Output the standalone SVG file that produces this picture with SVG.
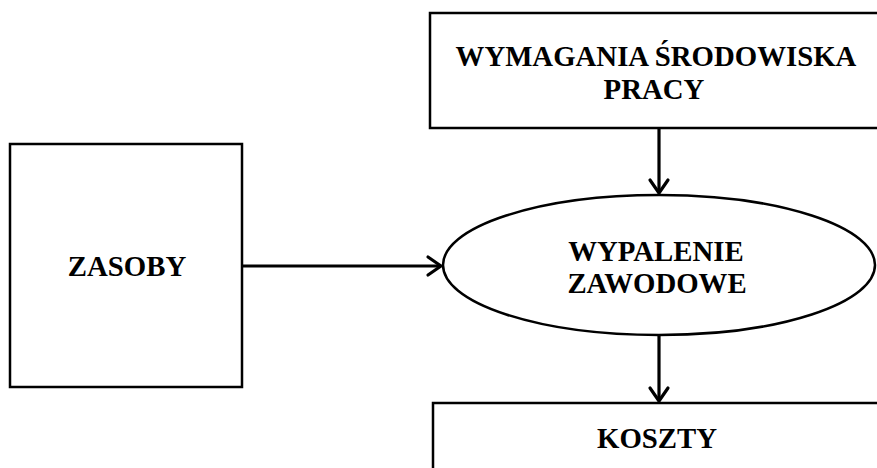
<svg xmlns="http://www.w3.org/2000/svg" width="877" height="468" viewBox="0 0 877 468">
<style>
.box{fill:#fff;stroke:#000;stroke-width:2.5}
.t{font-family:"Liberation Serif","Times New Roman",serif;font-weight:bold;font-size:28.8px;text-anchor:middle;fill:#000}
.c{fill:none;stroke:#000;stroke-width:3.2}
.h{fill:none;stroke:#000;stroke-width:3.2;stroke-linecap:round;stroke-linejoin:round}
</style>
<rect width="877" height="468" fill="#fff"/>
<g id="connectors">
<line class="c" x1="659" y1="128" x2="659" y2="193"/>
<polyline class="h" points="650,180 659,193 668,180"/>
<line class="c" x1="243" y1="266" x2="441" y2="266"/>
<polyline class="h" points="428,257 441,266 428,275"/>
<line class="c" x1="659" y1="335" x2="659" y2="401"/>
<polyline class="h" points="650,388 659,401 668,388"/>
</g>
<g id="wymagania">
<rect class="box" x="430" y="13" width="460" height="115"/>
<text class="t" x="656" y="66">WYMAGANIA ŚRODOWISKA</text>
<text class="t" x="654" y="99">PRACY</text>
</g>
<g id="zasoby">
<rect class="box" x="10" y="144" width="232" height="243"/>
<text class="t" x="127" y="276">ZASOBY</text>
</g>
<g id="wypalenie">
<ellipse class="box" cx="659" cy="265" rx="216" ry="70"/>
<text class="t" x="656" y="261">WYPALENIE</text>
<text class="t" x="657" y="293">ZAWODOWE</text>
</g>
<g id="koszty">
<rect class="box" x="433" y="403" width="460" height="80"/>
<text class="t" x="657" y="448">KOSZTY</text>
</g>
</svg>
